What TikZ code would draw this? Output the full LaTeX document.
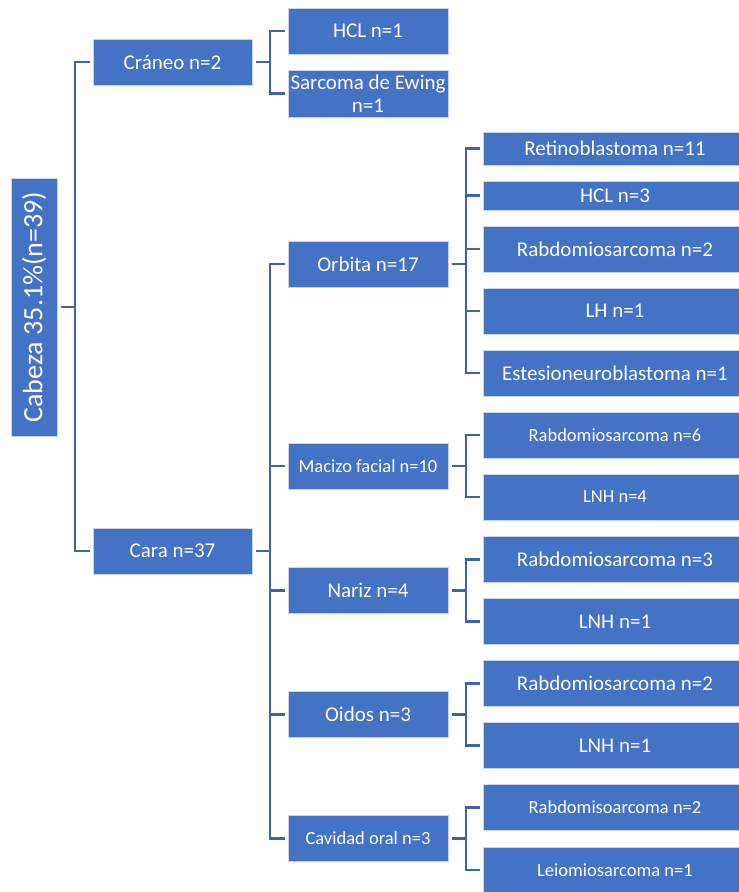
\documentclass[tikz,border=0pt]{standalone}
\usepackage{fontspec}
\setmainfont{Carlito}
\definecolor{boxblue}{HTML}{4472C4}
\definecolor{linkblue}{HTML}{3E63AA}

\begin{document}
\begin{tikzpicture}[x=1pt,y=-1pt,
    box/.style={fill=boxblue,draw=white!70!boxblue,line width=0.6pt,text=white,inner sep=0pt,align=center,font=\fontsize{21}{23}\selectfont},
    small/.style={font=\fontsize{18.5}{20}\selectfont},
    lvltwo/.style={box,minimum width=159pt,minimum height=46pt},
    lvlthree/.style={box,minimum width=160pt,minimum height=46pt},
    lvlfour/.style={box,minimum width=264pt,minimum height=46pt},
    link/.style={draw=linkblue,line width=2.2pt,shorten <=3.5pt,shorten >=3pt}]
            \useasboundingbox (0,0) rectangle (739,892);
            \node[box,minimum width=46pt,minimum height=258pt,font=\fontsize{28}{30}\selectfont] (root) at (34,307) {\rotatebox{90}{Cabeza 35.1\%(n=39)}};
            \node[lvltwo] (cra) at (172.5,62) {Cráneo n=2};
            \node[lvltwo] (cara) at (172.5,551) {Cara n=37};
            \node[lvlthree] (hcl) at (368,31) {HCL n=1};
            \node[lvlthree,minimum height=47pt] (ewing) at (368,93.5) {Sarcoma de Ewing\\n=1};
            \node[lvlthree] (orb) at (368,264) {Orbita n=17};
            \node[lvlthree,small] (maci) at (368,466) {Macizo facial n=10};
            \node[lvlthree] (nariz) at (368,590.5) {Nariz n=4};
            \node[lvlthree] (oido) at (368,714.5) {Oidos n=3};
            \node[lvlthree,small] (cav) at (368,838.5) {Cavidad oral n=3};
            % \node[lvlfour] at (615,148.5) {};
            \node[lvlfour,minimum height=33pt] (retino) at (615,148.5) {Retinoblastoma n=11};
            \node[lvlfour,minimum height=29pt] (hcltres) at (615,195.5) {HCL n=3};
            \node[lvlfour] (rabdoa) at (615,249) {Rabdomiosarcoma n=2};
            \node[lvlfour] (lh) at (615,311) {LH n=1};
            \node[lvlfour] (estes) at (615,373) {Estesioneuroblastoma n=1};
            \node[lvlfour,small] (rabdob) at (615,435) {Rabdomiosarcoma n=6};
            \node[lvlfour,small] (lnha) at (615,497) {LNH n=4};
            \node[lvlfour] (rabdoc) at (615,559.5) {Rabdomiosarcoma n=3};
            \node[lvlfour] (lnhb) at (615,621.5) {LNH n=1};
            \node[lvlfour] (rabdod) at (615,683.5) {Rabdomiosarcoma n=2};
            \node[lvlfour] (lnhc) at (615,745.5) {LNH n=1};
            \node[lvlfour,small] (rabdoe) at (615,807.5) {Rabdomisoarcoma n=2};
            \node[lvlfour,small] (leio) at (615,870) {Leiomiosarcoma n=1};
            \foreach \p/\c in {root/cra,root/cara,cra/hcl,cra/ewing,cara/orb,cara/maci,cara/nariz,cara/oido,cara/cav,
                orb/retino,orb/hcltres,orb/rabdoa,orb/lh,orb/estes,maci/rabdob,maci/lnha,nariz/rabdoc,nariz/lnhb,
                oido/rabdod,oido/lnhc,cav/rabdoe,cav/leio}
                \draw[link] (\p.east) -- ++(17.5,0) |- (\c.west);
        \end{tikzpicture}
\end{document}
